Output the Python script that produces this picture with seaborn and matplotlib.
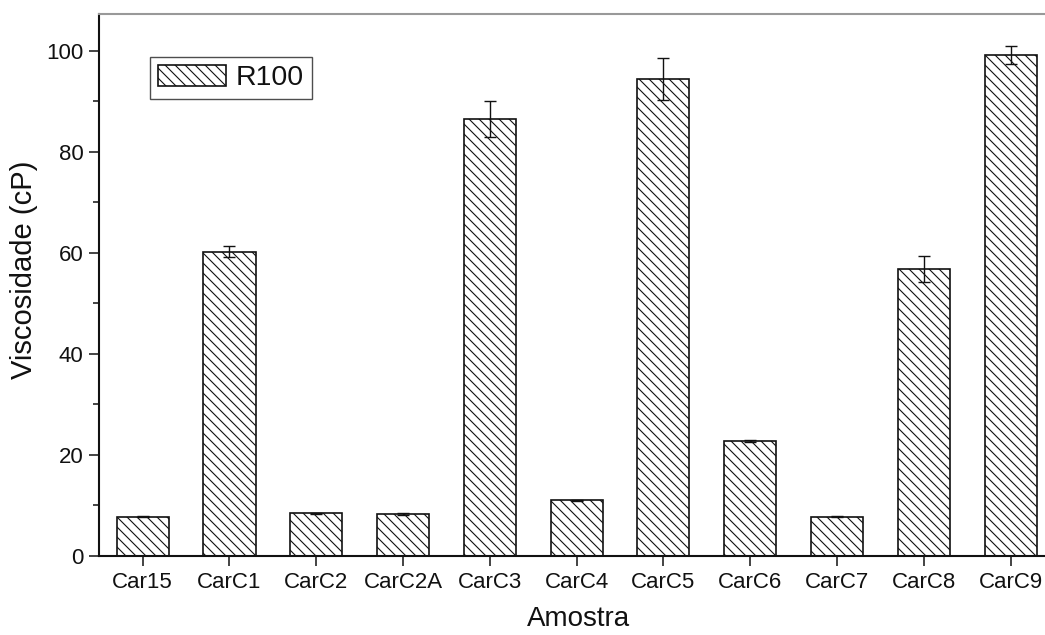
import matplotlib
matplotlib.use("Agg")
import matplotlib.pyplot as plt
from matplotlib.ticker import MultipleLocator
import numpy as np
import pandas as pd
import seaborn as sns

# Viscosity (cP) of each sample, measured at R100
samples = ["Car15", "CarC1", "CarC2", "CarC2A", "CarC3", "CarC4",
           "CarC5", "CarC6", "CarC7", "CarC8", "CarC9"]
viscosity = [7.8, 60.2, 8.5, 8.3, 86.5, 11.0, 94.4, 22.8, 7.8, 56.8, 99.2]
std_dev = [0.1, 1.1, 0.1, 0.2, 3.6, 0.1, 4.2, 0.2, 0.1, 2.5, 1.8]
series_name = "R100"

DPI = 120
S = 100 / DPI  # sizes below are given for 100 dpi and scaled to the output dpi

sns.set_theme(style="ticks")
plt.rcParams["font.family"] = ["Liberation Sans", "DejaVu Sans"]
plt.rcParams["hatch.linewidth"] = 0.8 * S
plt.rcParams["hatch.color"] = "#222222"

df = pd.DataFrame({"Amostra": samples, "Viscosidade": viscosity})

fig = plt.figure(figsize=(1045 / DPI, 635 / DPI), dpi=DPI)
ax = fig.add_axes([99.3 / 1045, 79 / 635, 954.7 / 1045, 542 / 635])

sns.barplot(data=df, x="Amostra", y="Viscosidade", ax=ax, width=0.6,
            color="white", edgecolor="#111111", linewidth=1.2 * S,
            hatch="\\\\\\\\", label=series_name, errorbar=None)
for p in ax.patches:
    p.set_facecolor("white")

ax.errorbar(np.arange(len(samples)), viscosity, yerr=std_dev, fmt="none",
            ecolor="#111111", elinewidth=1.0 * S, capsize=4 * S,
            capthick=1.0 * S)

ax.set_xlim(-0.5, len(samples) - 0.5)
ax.set_ylim(0, 107.3)
ax.yaxis.set_major_locator(MultipleLocator(20))
ax.yaxis.set_minor_locator(MultipleLocator(10))

ax.set_xlabel("Amostra", fontsize=20 * S, color="#111111")
ax.set_ylabel("Viscosidade (cP)", fontsize=21 * S, color="#111111")
ax.xaxis.set_label_coords(0.502, -0.093)
ax.yaxis.set_label_coords(-0.064, 0.528)

ax.tick_params(axis="both", which="major", direction="out", length=7.5 * S,
               width=1.1 * S, labelsize=16 * S, colors="#111111", pad=4 * S)
ax.tick_params(axis="y", which="minor", direction="out", length=4.5 * S,
               width=1.1 * S, colors="#111111")
ax.tick_params(axis="x", which="minor", bottom=False)

for side in ["left", "bottom"]:
    ax.spines[side].set_color("#111111")
    ax.spines[side].set_linewidth(1.5 * S)
for side in ["top", "right"]:
    ax.spines[side].set_color("#999999")
    ax.spines[side].set_linewidth(1.5 * S)

leg = ax.legend(loc="upper left", bbox_to_anchor=(0.053, 0.921),
                fontsize=20.5 * S, frameon=True, fancybox=False,
                edgecolor="#222222", handlelength=2.4, handleheight=0.75,
                handletextpad=0.33, borderpad=0.28, borderaxespad=0)
leg.get_frame().set_linewidth(1.0 * S)
for t in leg.get_texts():
    t.set_color("#111111")

fig.savefig("out.png", dpi=DPI)
